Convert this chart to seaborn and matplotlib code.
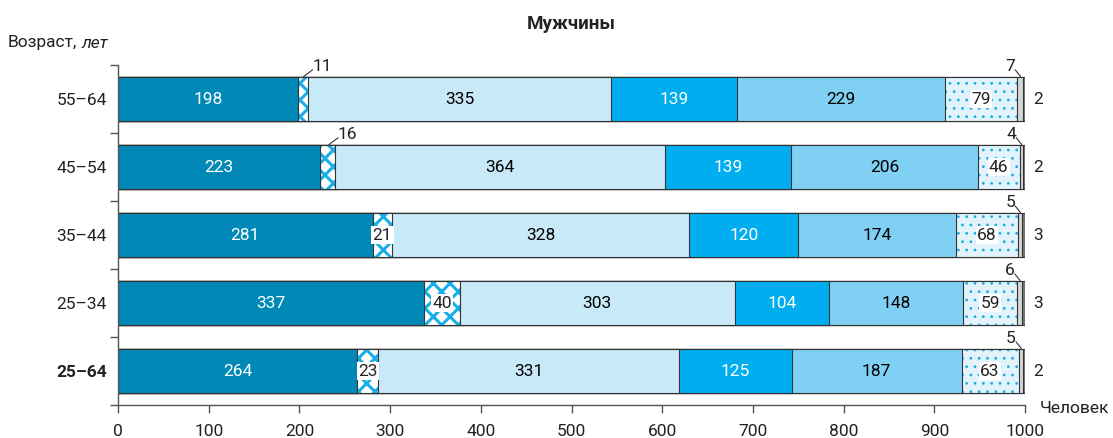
import matplotlib
matplotlib.use("Agg")
import matplotlib.pyplot as plt
import seaborn as sns
import numpy as np

ages = ['55–64', '45–54', '35–44', '25–34', '25–64']
s1 = [198, 223, 281, 337, 264]
s2 = [11, 16, 21, 40, 23]
s3 = [335, 364, 328, 303, 331]
s4 = [139, 139, 120, 104, 125]
s5 = [229, 206, 174, 148, 187]
s6 = [79, 46, 68, 59, 63]
s7 = [7, 4, 5, 6, 5]
s8 = [2, 2, 3, 3, 2]
series = [s1, s2, s3, s4, s5, s6, s7, s8]
xticks = list(range(0, 1001, 100))

colors = ['#0089b6', '#ffffff', '#c8e9f8', '#00aeef', '#80d0f4', '#e2f3fc', '#d6d6d6', '#777777']
hatches = [None, 'xx', None, None, None, '..', None, None]
hatch_lw = [None, 2.2, None, None, None, 0.8, None, None]
text_colors = ['white', 'black', 'black', 'white', 'black', 'black', 'black', 'black']
hatch_blue = '#18aee8'
edge = '#333333'

sns.set_theme(style='white')
plt.rcParams['font.family'] = ['Liberation Sans Narrow', 'Roboto', 'DejaVu Sans']

fig = plt.figure(figsize=(11.13, 4.38), dpi=100)
ax = fig.add_axes([118/1113, 1 - 405/438, 907/1113, 340/438])

vals = np.array(series, dtype=float)  # shape (8, 5)
cum = np.cumsum(vals, axis=0)
left = cum - vals
bar_w = 0.66

for k in range(len(series) - 1, -1, -1):
    if hatches[k]:
        plt.rcParams['hatch.linewidth'] = hatch_lw[k]
        n0 = len(ax.patches)
        sns.barplot(x=cum[k], y=ages, order=ages, orient='h', color=colors[k], saturation=1,
                    width=bar_w, edgecolor=hatch_blue, linewidth=0, ax=ax)
        for p in ax.patches[n0:]:
            p.set_hatch(hatches[k])
        n1 = len(ax.patches)
        sns.barplot(x=cum[k], y=ages, order=ages, orient='h', color=colors[k], saturation=1,
                    width=bar_w, edgecolor=edge, linewidth=0.8, ax=ax)
        for p in ax.patches[n1:]:
            p.set_facecolor('none')
    else:
        sns.barplot(x=cum[k], y=ages, order=ages, orient='h', color=colors[k], saturation=1,
                    width=bar_w, edgecolor=edge, linewidth=0.8, ax=ax)

fs = 12.5
for i in range(len(ages)):
    for k in range(len(series)):
        v = vals[k, i]
        c = left[k, i] + v / 2
        if k == 7:
            ax.text(1014, i, f'{int(v)}', ha='center', va='center', fontsize=fs, color='#222222')
        elif (k == 1 and v < 20) or k == 6:
            top = i - bar_w / 2
            xe = left[k, i] + v * 0.6
            if k == 1:
                xt = xe + 10
                ax.plot([xe, xt], [top, top - 0.1], color=edge, lw=0.8, clip_on=False)
                ax.text(xt, top - 0.04, f'{int(v)}', ha='left', va='bottom', fontsize=fs, color='#222222')
            else:
                xt = xe - 6
                ax.plot([xe, xt], [top, top - 0.1], color=edge, lw=0.8, clip_on=False)
                ax.text(xt, top - 0.04, f'{int(v)}', ha='right', va='bottom', fontsize=fs, color='#222222')
        elif k in (1, 5):
            ax.text(c, i, f'{int(v)}', ha='center', va='center', fontsize=fs, color='#222222',
                    bbox=dict(facecolor='white', edgecolor='none', pad=1))
        else:
            ax.text(c, i, f'{int(v)}', ha='center', va='center', fontsize=fs, color=text_colors[k])

ax.set_xlim(0, 1000)
ax.set_ylim(len(ages) - 0.5, -0.5)
ax.set_xticks(xticks)
ax.set_xticklabels([str(t) for t in xticks], fontsize=fs, color='#222222')
ax.set_yticks(range(len(ages)))
ax.set_yticklabels(ages, fontsize=fs, color='#222222')
ax.get_yticklabels()[-1].set_fontweight('bold')
ax.set_yticks(np.arange(-0.5, len(ages), 1.0), minor=True)
ax.tick_params(axis='y', which='major', length=0, pad=8)
ax.tick_params(axis='y', which='minor', length=6, color='#555555', width=1, direction='out', left=True)
ax.tick_params(axis='x', which='major', length=6, color='#555555', width=1, direction='out', bottom=True, pad=8)
ax.set_xlabel('')
ax.set_ylabel('')
for s in ['top', 'right']:
    ax.spines[s].set_visible(False)
for s in ['left', 'bottom']:
    ax.spines[s].set_color('#555555')
    ax.spines[s].set_linewidth(1)

ax.set_title('Мужчины', fontsize=13.5, fontweight='bold', pad=26, color='#222222')
ax.text(1.016, -0.01, 'Человек', transform=ax.transAxes, ha='left', va='center', fontsize=fs, color='#222222')
fig.text(8/1113, 1 - 43/438, 'Возраст,', ha='left', va='center', fontsize=fs, color='#222222')
fig.text(81/1113, 1 - 43/438, 'лет', ha='left', va='center', fontsize=fs, style='italic', color='#222222')

fig.savefig('out.png', dpi=100)
